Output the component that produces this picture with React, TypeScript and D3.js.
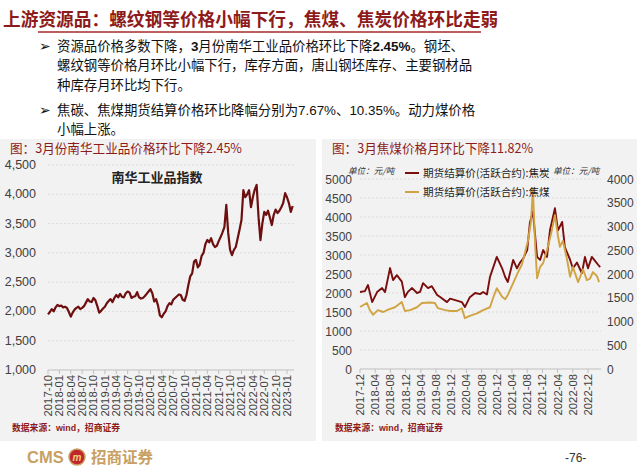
import React from 'react';
import * as d3 from 'd3';

// ---------- text ----------
const titleText = '上游资源品：螺纹钢等价格小幅下行，焦煤、焦炭价格环比走弱';
const leftCaption = '图：3月份南华工业品价格环比下降2.45%';
const rightCaption = '图：3月焦煤价格月环比下降11.82%';
const leftChartTitle = '南华工业品指数';
const sourceText = ['数据来源：', 'wind', '，招商证券'];
const unitText = '单位：元/吨';
const legendNames = ['期货结算价(活跃合约):焦炭', '期货结算价(活跃合约):焦煤'];

// ---------- left chart: Nanhua industrial index, half-month steps from 2017-10 ----------
const nanhuaValues = [
  1950, 1990, 2040, 2000, 2070, 2110, 2090, 2100, 2070, 2080, 2060, 1990,
  1910, 1980, 2030, 2060, 2080, 2040, 2060, 2090, 2150, 2210, 2170, 2160,
  2230, 2190, 2090, 1980, 2010, 2050, 2080, 2140, 2180, 2210, 2160, 2230,
  2280, 2240, 2300, 2250, 2240, 2310, 2340, 2320, 2230, 2250, 2260, 2330,
  2240, 2220, 2230, 2260, 2300, 2340, 2380, 2310, 2170, 2210, 2100, 1930,
  1900, 1960, 2000, 2090, 2140, 2120, 2200, 2230, 2260, 2290, 2280, 2200,
  2180, 2280, 2450, 2600, 2650, 2850, 2880, 2750, 2800, 2950, 3000, 3150,
  3220, 3180, 3250, 3150, 3100, 3120, 3200, 3270, 3350, 3440, 3820, 3340,
  3050, 2960, 3050, 3100, 3250, 3400, 3560, 4070, 3950, 4000, 4070, 3780,
  3950, 4080, 4160, 3610, 3218, 3500, 3700, 3650, 3720, 3600, 3475, 3650,
  3740, 3680, 3720, 3780, 3850, 4020, 3950, 3850, 3700, 3800,
];
const nanhuaTickLabels = [
  '2017-10', '2018-01', '2018-04', '2018-07', '2018-10', '2019-01', '2019-04', '2019-07',
  '2019-10', '2020-01', '2020-04', '2020-07', '2020-10', '2021-01', '2021-04', '2021-07',
  '2021-10', '2022-01', '2022-04', '2022-07', '2022-10', '2023-01',
];
const nanhuaYTicks = [1000, 1500, 2000, 2500, 3000, 3500, 4000, 4500];

// ---------- right chart: coke & coking coal futures (months since 2017-12) ----------
const cokeMonths = [
  0, 1.3, 2.1, 3.2, 4.5, 5.8, 6.6, 7.9, 8.7, 9.7, 11, 11.8, 12.6, 13.7, 15, 15.8, 16.6, 17.9, 18.9, 20.3,
  21, 22.9, 23.7, 25.5, 26.8, 27.6, 28.9, 30.3, 31.6, 32.4, 33.4, 34.2, 36, 37.4, 38.2, 38.9, 40.3, 41.3, 42.1, 42.9,
  44, 44.7, 45.5, 46.6, 47.4, 48.2, 49.2, 50, 51.3, 52.1, 53.2, 53.9, 55.3, 56, 57.1, 58.4, 59.2, 60, 61, 61.8,
  62.6, 63.2,
];
const cokeValues = [
  2025, 2050, 2210, 1760, 2025, 2130, 2025, 2656, 2340, 2470, 2300, 1890, 2030, 2130, 2000, 2030, 2260, 2130, 2180, 1950,
  1900, 1760, 1850, 1800, 1760, 1630, 1890, 2000, 1970, 2025, 1960, 2420, 2950, 2650, 2420, 2290, 2870, 2650, 2800, 2900,
  3130, 3840, 4150, 2950, 2870, 3130, 2950, 3650, 4230, 3650, 3870, 3210, 2870, 2650, 2800, 2520, 2950, 2650, 2950, 2850,
  2750, 2680,
];
const coalMonths = [
  0, 1.8, 2.6, 3.4, 4.7, 6.1, 7.4, 9.2, 11, 11.8, 13.2, 15, 16.3, 18.4, 19.7, 20.5, 22.4, 23.7, 25.5, 26.8,
  27.6, 28.9, 30.8, 32.4, 34.2, 35, 36, 37.4, 38.2, 38.9, 40.3, 41.6, 42.6, 43.4, 44.2, 45, 45.5, 46.1, 46.6, 47.4,
  48.2, 49.2, 50.3, 51.3, 52.1, 52.6, 53.4, 54.5, 55.3, 56, 57.4, 58.7, 59.7, 60.5, 61.3, 62.4, 62.9,
];
const coalValues = [
  1305, 1390, 1240, 1140, 1240, 1200, 1250, 1300, 1410, 1220, 1240, 1300, 1390, 1400, 1390, 1280, 1240, 1220, 1220, 1280,
  1070, 1120, 1170, 1240, 1300, 1490, 1700, 1520, 1470, 1560, 1810, 2040, 2200, 2440, 2700, 3100, 3800, 2600, 1910, 2150,
  2230, 2500, 2850, 3240, 2800, 2570, 2700, 2300, 1940, 2150, 1830, 2100, 1870, 1900, 2040, 1950, 1830,
];
const coalTickLabels = [
  '2017-12', '2018-04', '2018-08', '2018-12', '2019-04', '2019-08', '2019-12', '2020-04',
  '2020-08', '2020-12', '2021-04', '2021-08', '2021-12', '2022-04', '2022-08', '2022-12',
];
const cokeAxisTicks = [0, 500, 1000, 1500, 2000, 2500, 3000, 3500, 4000, 4500, 5000];
const coalAxisTicks = [0, 500, 1000, 1500, 2000, 2500, 3000, 3500, 4000];

const CJK = "'Noto Sans CJK SC', sans-serif";
const NUM = "'Liberation Sans', Arial, sans-serif";
const DARKRED = '#8e1b1b';
const GOLD = '#c9a063';

export default function App() {
  // left chart scales
  const lx = d3.scaleLinear().domain([0, 63]).range([48, 287]);
  const ly = d3.scaleLinear().domain([1000, 4500]).range([370, 165]);
  const nanhuaLine = d3
    .line<number>()
    .x((_, i) => lx(i * 0.5))
    .y((v) => ly(v));

  // right chart scales
  const rx = d3.scaleLinear().domain([0, 60]).range([360, 588]);
  const ryL = d3.scaleLinear().domain([0, 5000]).range([369, 179]);
  const ryR = d3.scaleLinear().domain([0, 4000]).range([369, 179]);
  const cokeLine = d3
    .line<number>()
    .x((_, i) => rx(cokeMonths[i]))
    .y((v) => ryL(v));
  const coalLine = d3
    .line<number>()
    .x((_, i) => rx(coalMonths[i]))
    .y((v) => ryR(v));

  const bullets = (
    <g fontFamily={CJK} fontSize={13.4} fill="#111">
      <text x={39} y={50.5} fontFamily="'DejaVu Sans'" fontSize={14}>➢</text>
      <text x={57} y={50.5}>
        资源品价格多数下降，
        <tspan fontFamily={NUM} fontWeight="bold">3</tspan>
        月份南华工业品价格环比下降
        <tspan fontFamily={NUM} fontWeight="bold">2.45%</tspan>
        。钢坯、
      </text>
      <text x={57} y={70}>螺纹钢等价格月环比小幅下行，库存方面，唐山钢坯库存、主要钢材品</text>
      <text x={57} y={89.5}>种库存月环比均下行。</text>
      <text x={39} y={114.5} fontFamily="'DejaVu Sans'" fontSize={14}>➢</text>
      <text x={57} y={114.5}>
        焦碳、焦煤期货结算价格环比降幅分别为
        <tspan fontFamily={NUM}>7.67%</tspan>、<tspan fontFamily={NUM}>10.35%</tspan>。动力煤价格
      </text>
      <text x={57} y={134}>小幅上涨。</text>
    </g>
  );

  return (
    <svg
      width={640}
      height={469}
      style={{ position: 'absolute', left: 0, top: 0, background: '#fff' }}
    >
      <rect x={0} y={0} width={640} height={469} fill="#fff" />
      {/* title */}
      <text x={3} y={26} fontFamily={CJK} fontWeight="bold" fontSize={17.7} fill={DARKRED}>
        {titleText}
      </text>
      <line x1={38} x2={481} y1={32} y2={32} stroke="#a52a2a" strokeWidth={1.6} />
      {bullets}

      {/* panels */}
      <rect x={0} y={139} width={316} height={302} fill="#f2f2f2" />
      <rect x={322} y={139} width={315} height={302} fill="#f2f2f2" />

      {/* ===== left chart ===== */}
      <text x={10} y={153} fontFamily={CJK} fontSize={12.6} fill={DARKRED}>{leftCaption}</text>
      {nanhuaYTicks.map((t) => (
        <g key={t}>
          {t > 1000 && (
            <line x1={48} x2={295} y1={ly(t)} y2={ly(t)} stroke="#d6d6d6" strokeWidth={0.8} strokeDasharray="2,2" />
          )}
          <text x={36} y={ly(t) + 4} textAnchor="end" fontFamily={NUM} fontSize={12.5} fill="#404040">
            {d3.format(',')(t)}
          </text>
        </g>
      ))}
      <line x1={48} x2={294} y1={370} y2={370} stroke="#bfbfbf" strokeWidth={1} />
      {nanhuaTickLabels.map((lab, i) => {
        const x = lx(i * 3);
        return (
          <g key={lab}>
            <line x1={x} x2={x} y1={370} y2={374} stroke="#bfbfbf" />
            <text
              transform={`translate(${x},375) rotate(-90)`}
              textAnchor="end"
              dy="0.35em"
              fontFamily={NUM}
              fontSize={11.3}
              fill="#404040"
            >
              {lab}
            </text>
          </g>
        );
      })}
      <text x={157} y={182} textAnchor="middle" fontFamily={CJK} fontWeight="bold" fontSize={13} fill="#222">
        {leftChartTitle}
      </text>
      <path d={nanhuaLine(nanhuaValues) || ''} fill="none" stroke="#6e0f0f" strokeWidth={2.2} strokeLinejoin="round" />
      <text x={12} y={431} fontFamily={CJK} fontWeight="bold" fontSize={8.8} fill={DARKRED}>
        {sourceText[0]}
        <tspan fontFamily={NUM}>{sourceText[1]}</tspan>
        {sourceText[2]}
      </text>

      {/* ===== right chart ===== */}
      <text x={332} y={153} fontFamily={CJK} fontSize={12.6} fill={DARKRED}>{rightCaption}</text>
      {cokeAxisTicks.map((t) => (
        <g key={'l' + t}>
          {t > 0 && (
            <line x1={360} x2={601} y1={ryL(t)} y2={ryL(t)} stroke="#d6d6d6" strokeWidth={0.8} strokeDasharray="2,2" />
          )}
          <text x={352} y={ryL(t) + 4.5} textAnchor="end" fontFamily={NUM} fontSize={12} fill="#404040">
            {t}
          </text>
        </g>
      ))}
      {coalAxisTicks.map((t) => (
        <text key={'r' + t} x={607} y={ryR(t) + 4.5} fontFamily={NUM} fontSize={12} fill="#404040">
          {t}
        </text>
      ))}
      <line x1={360} x2={601} y1={369} y2={369} stroke="#bfbfbf" strokeWidth={1} />
      {coalTickLabels.map((lab, i) => {
        const x = rx(i * 4);
        return (
          <g key={lab}>
            <line x1={x} x2={x} y1={369} y2={373} stroke="#bfbfbf" />
            <text
              transform={`translate(${x},374) rotate(-90)`}
              textAnchor="end"
              dy="0.35em"
              fontFamily={NUM}
              fontSize={11.3}
              fill="#404040"
            >
              {lab}
            </text>
          </g>
        );
      })}
      <text x={348} y={174} fontFamily={CJK} fontSize={8.6} fill="#333" fontStyle="italic">{unitText}</text>
      <text x={553} y={174} fontFamily={CJK} fontSize={8.6} fill="#333" fontStyle="italic">{unitText}</text>
      <path d={cokeLine(cokeValues) || ''} fill="none" stroke="#7a0d0d" strokeWidth={1.9} strokeLinejoin="round" />
      <path d={coalLine(coalValues) || ''} fill="none" stroke="#d1a443" strokeWidth={1.9} strokeLinejoin="round" />
      {/* legend */}
      <line x1={405} x2={419} y1={173} y2={173} stroke="#7a0d0d" strokeWidth={2} />
      <text x={423} y={177} fontFamily={CJK} fontSize={10.6} fill="#222">{legendNames[0]}</text>
      <line x1={405} x2={419} y1={192} y2={192} stroke="#d1a443" strokeWidth={2} />
      <text x={423} y={196} fontFamily={CJK} fontSize={10.6} fill="#222">{legendNames[1]}</text>
      <text x={335} y={431} fontFamily={CJK} fontWeight="bold" fontSize={8.8} fill={DARKRED}>
        {sourceText[0]}
        <tspan fontFamily={NUM}>{sourceText[1]}</tspan>
        {sourceText[2]}
      </text>

      {/* footer */}
      <text x={27} y={463} fontFamily={NUM} fontWeight="bold" fontSize={16.5} fill={GOLD}>CMS</text>
      <circle cx={77} cy={457} r={8} fill="#c0262c" stroke={GOLD} strokeWidth={1.5} />
      <text x={77} y={461} textAnchor="middle" fontFamily={NUM} fontWeight="bold" fontStyle="italic" fontSize={10} fill="#f3d27a">
        m
      </text>
      <text x={91} y={463} fontFamily={CJK} fontWeight="bold" fontSize={15.5} fill={GOLD}>招商证券</text>
      <text x={565} y={462} fontFamily={NUM} fontSize={12} fill="#333">-76-</text>
    </svg>
  );
}
